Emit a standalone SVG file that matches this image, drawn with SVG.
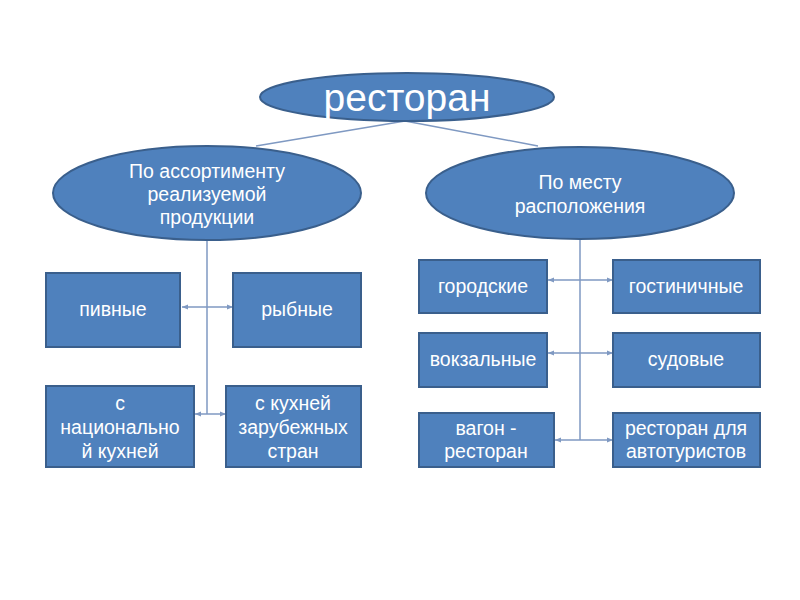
<svg xmlns="http://www.w3.org/2000/svg" width="800" height="600" viewBox="0 0 800 600">
<style>
.shape{fill:#4f81bd;stroke:#3a5f8c;stroke-width:2}
.t{fill:#ffffff;font-family:"Liberation Sans",Arial,sans-serif;font-size:19.5px;text-anchor:middle}
.big{font-size:39px}
.c{fill:none;stroke:#7f99c2;stroke-width:1.5}
.a{marker-end:url(#arr)}
</style>
<defs>
<marker id="arr" viewBox="0 0 10 10" refX="10" refY="5" markerWidth="6" markerHeight="6" markerUnits="userSpaceOnUse" orient="auto">
<path d="M0,1 L10,5 L0,9 z" fill="#7f99c2"/>
</marker>
</defs>
<rect width="800" height="600" fill="#ffffff"/>
<g id="connectors">
<line class="c" x1="405" y1="121" x2="256" y2="146"/>
<line class="c" x1="405" y1="121" x2="538" y2="146"/>
<line class="c" x1="207" y1="240" x2="207" y2="414"/>
<line class="c a" x1="207" y1="307" x2="182" y2="307"/>
<line class="c a" x1="207" y1="307" x2="233" y2="307"/>
<line class="c a" x1="207" y1="414" x2="195" y2="414"/>
<line class="c a" x1="207" y1="414" x2="226" y2="414"/>
<line class="c" x1="580" y1="240" x2="580" y2="440"/>
<line class="c a" x1="580" y1="280" x2="548" y2="280"/>
<line class="c a" x1="580" y1="280" x2="613" y2="280"/>
<line class="c a" x1="580" y1="353" x2="548" y2="353"/>
<line class="c a" x1="580" y1="353" x2="613" y2="353"/>
<line class="c a" x1="580" y1="440" x2="555" y2="440"/>
<line class="c a" x1="580" y1="440" x2="613" y2="440"/>
</g>
<g id="root">
<ellipse class="shape" cx="407" cy="97" rx="147" ry="24"/>
<text class="t big" x="407" y="111">ресторан</text>
</g>
<g id="assortment">
<ellipse class="shape" cx="207" cy="193" rx="154" ry="47"/>
<text class="t" x="207" y="178">По ассортименту</text>
<text class="t" x="207" y="201">реализуемой</text>
<text class="t" x="207" y="224">продукции</text>
</g>
<g id="location">
<ellipse class="shape" cx="580" cy="193" rx="154" ry="46"/>
<text class="t" x="580" y="189">По месту</text>
<text class="t" x="580" y="213">расположения</text>
</g>
<g id="pivnye">
<rect class="shape" x="46" y="273" width="134" height="74"/>
<text class="t" x="113" y="316">пивные</text>
</g>
<g id="rybnye">
<rect class="shape" x="233" y="273" width="128" height="74"/>
<text class="t" x="297" y="316">рыбные</text>
</g>
<g id="national">
<rect class="shape" x="46" y="386" width="148" height="81"/>
<text class="t" x="120" y="410">с</text>
<text class="t" x="120" y="434">национально</text>
<text class="t" x="120" y="458">й кухней</text>
</g>
<g id="foreign">
<rect class="shape" x="226" y="386" width="135" height="81"/>
<text class="t" x="293" y="410">с кухней</text>
<text class="t" x="293" y="434">зарубежных</text>
<text class="t" x="293" y="458">стран</text>
</g>
<g id="gorodskie">
<rect class="shape" x="419" y="260" width="128" height="53"/>
<text class="t" x="483" y="293">городские</text>
</g>
<g id="gostinichnye">
<rect class="shape" x="613" y="260" width="147" height="53"/>
<text class="t" x="686" y="293">гостиничные</text>
</g>
<g id="vokzalnye">
<rect class="shape" x="419" y="333" width="128" height="54"/>
<text class="t" x="483" y="366">вокзальные</text>
</g>
<g id="sudovye">
<rect class="shape" x="613" y="333" width="147" height="54"/>
<text class="t" x="686" y="366">судовые</text>
</g>
<g id="vagon">
<rect class="shape" x="419" y="413" width="135" height="54"/>
<text class="t" x="486" y="435">вагон -</text>
<text class="t" x="486" y="458">ресторан</text>
</g>
<g id="avto">
<rect class="shape" x="613" y="413" width="147" height="54"/>
<text class="t" x="686" y="435">ресторан для</text>
<text class="t" x="686" y="458">автотуристов</text>
</g>
</svg>
